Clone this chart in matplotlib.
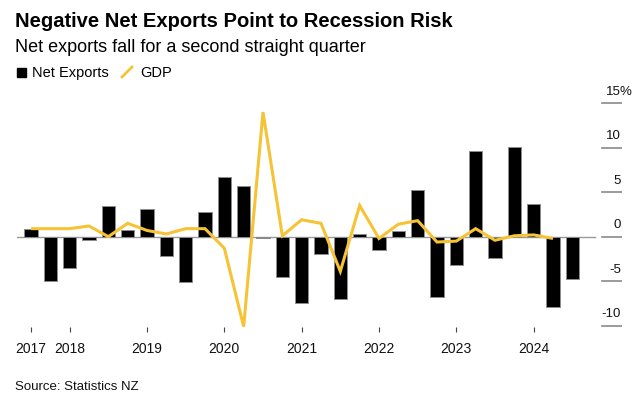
import matplotlib
matplotlib.use("Agg")
import matplotlib.pyplot as plt
import pandas as pd
from matplotlib.patches import Rectangle
from matplotlib.lines import Line2D
from matplotlib.transforms import blended_transform_factory

plt.rcParams['font.family'] = ['Liberation Sans', 'DejaVu Sans']

# quarterly data, 2017Q3 .. 2024Q3 (% q/q)
quarters = [str(q) for q in pd.period_range('2017Q3', '2024Q3', freq='Q')]
net_exports = [0.9, -5.0, -3.5, -0.4, 3.5, 0.8, 3.1, -2.2, -5.1, 2.8,
               6.7, 5.7, -0.1, -4.5, -7.4, -2.0, -7.0, 0.3, -1.5, 0.6,
               5.3, -6.8, -3.2, 9.6, -2.4, 10.1, 3.7, -7.9, -4.8]
gdp = [0.9, 0.9, 0.9, 1.2, 0.0, 1.5, 0.7, 0.3, 0.9, 0.9,
       -1.3, -10.1, 14.0, 0.1, 1.9, 1.5, -3.9, 3.5, -0.2, 1.4,
       1.8, -0.6, -0.5, 0.9, -0.4, 0.1, 0.2, -0.2]
y_ticks = [15, 10, 5, 0, -5, -10]

# year labels: first quarter shown, then every Q1
tick_pos = [i for i, q in enumerate(quarters) if i == 0 or q.endswith('Q1')]
tick_labels = [quarters[i][:4] for i in tick_pos]

W, H = 640, 398
fig = plt.figure(figsize=(6.4, 3.98), dpi=100)

# axes in pixel terms: x 16.7..622, y 90..332 (from top)
ax = fig.add_axes([16.7 / W, (H - 332) / H, (622 - 16.7) / W, (332 - 90) / H])
ax.set_xlim(-0.74, 30.57)
ax.set_ylim(-10.71, 16.48)

x = list(range(len(quarters)))
ax.axhline(0, xmin=0, xmax=0.9554, color='#999999', lw=1.0, zorder=1)
ax.bar(x, net_exports, width=0.68, color='black', edgecolor='#8c8c8c',
       linewidth=0.7, zorder=2)
ax.plot(x[:len(gdp)], gdp, color='#F6C335', lw=2.2, zorder=3,
        solid_joinstyle='miter', solid_capstyle='butt')

# right-side short gridlines + labels sitting above them
trans = blended_transform_factory(ax.transAxes, ax.transData)
for v in y_ticks:
    ax.axhline(v, xmin=0.9665, xmax=1, color='#8a8a8a', lw=1.2, zorder=1)
    ax.annotate(str(v), xy=(1, v), xycoords=trans, xytext=(-0.7, 6),
                textcoords='offset points', ha='right', va='baseline',
                fontsize=9.5, color='#111111')
    if v == max(y_ticks):
        ax.annotate('%', xy=(1, v), xycoords=trans, xytext=(-1.6, 6),
                    textcoords='offset points', ha='left', va='baseline',
                    fontsize=9.5, color='#111111', annotation_clip=False)

ax.set_xticks(tick_pos, tick_labels)
ax.set_yticks([])
ax.tick_params(axis='x', direction='in', length=3.6, width=0.8,
               color='#444444', pad=7, labelsize=10, labelcolor='#111111')
for s in ax.spines.values():
    s.set_visible(False)

# header
fig.text(15 / W, 1 - 27 / H, 'Negative Net Exports Point to Recession Risk',
         fontsize=14.5, fontweight='bold', va='baseline', ha='left')
fig.text(15 / W, 1 - 52 / H, 'Net exports fall for a second straight quarter',
         fontsize=13, va='baseline', ha='left')

# legend
fig.add_artist(Rectangle((17 / W, 1 - 77 / H), 9 / W, 9 / H,
                         transform=fig.transFigure, color='black'))
fig.text(32 / W, 1 - 77 / H, 'Net Exports', fontsize=10.5, va='baseline')
fig.add_artist(Line2D([122 / W, 132 / W], [1 - 77 / H, 1 - 67 / H],
                      transform=fig.transFigure, color='#F6C335', lw=2))
fig.text(140 / W, 1 - 77 / H, 'GDP', fontsize=10.5, va='baseline')

fig.text(15 / W, 1 - 390 / H, 'Source: Statistics NZ', fontsize=9.5,
         va='baseline', color='#111111')

fig.savefig('out.png', dpi=100)
